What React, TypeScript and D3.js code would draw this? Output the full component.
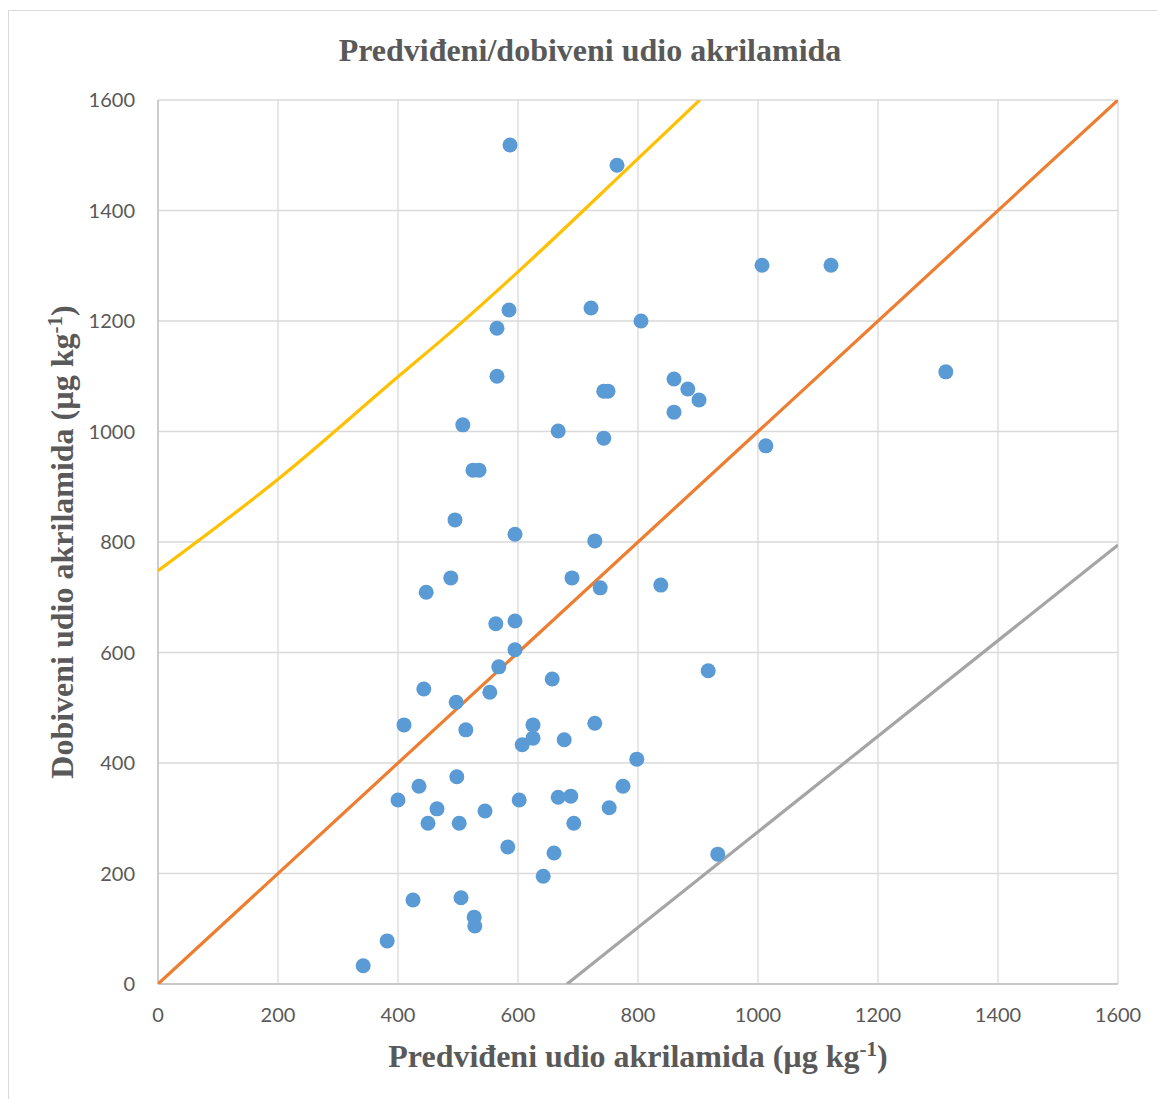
import React from "react";
import * as d3 from "d3";

const predicted = [586.7, 765, 1006.7, 1121.7, 721.7, 585, 805, 565, 565, 1313, 860, 883, 743, 750, 901.7, 860, 508, 667, 743, 1013, 525, 535, 495, 595, 728, 488, 690, 447, 737, 838, 595, 563, 595, 568, 917, 657, 443, 553, 497, 410, 625, 728, 513, 625, 677, 607, 798, 498, 435, 775, 400, 602, 667, 688, 465, 752, 545, 450, 502, 693, 583, 660, 933, 642, 425, 505, 527, 528, 382, 342];
const obtained = [1518.6, 1482, 1301, 1301, 1223.5, 1220, 1200, 1187, 1100, 1108, 1095, 1077, 1073, 1073, 1057, 1035, 1012, 1001, 988, 974, 930, 930, 840, 814, 802, 735, 735, 709, 717, 722, 657, 652, 605, 574, 567, 552, 534, 528, 510, 469, 469, 472, 460, 445, 442, 433, 407, 375, 358, 358, 333, 333, 338, 340, 317, 319, 313, 291, 291, 291, 248, 237, 235, 195, 152, 156, 121, 105, 78, 33];

const identityX = [0, 1600];
const identityY = [0, 1600];
const upperX = [0, 200, 400, 487, 600, 800, 903];
const upperY = [748, 913.5, 1099, 1179, 1289, 1494, 1600];
const lowerX = [681.7, 1600];
const lowerY = [0, 794.6];

const ticks = [0, 200, 400, 600, 800, 1000, 1200, 1400, 1600];

const title = "Predviđeni/dobiveni udio akrilamida";
const xTitle = "Predviđeni udio akrilamida (µg kg";
const yTitle = "Dobiveni udio akrilamida (µg kg";

export default function App() {
  const left = 158, right = 1118, top = 100, bottom = 984;
  const x = d3.scaleLinear().domain([0, 1600]).range([left, right]);
  const y = d3.scaleLinear().domain([0, 1600]).range([bottom, top]);
  const line = d3.line<[number, number]>().x(d => x(d[0])).y(d => y(d[1]));
  const curve = d3.line<[number, number]>().x(d => x(d[0])).y(d => y(d[1])).curve(d3.curveMonotoneX);
  const zip = (a: number[], b: number[]) => a.map((v, i) => [v, b[i]] as [number, number]);
  const tickFont = "Lato, 'Open Sans', sans-serif";
  const serif = "'Liberation Serif', 'DejaVu Serif', serif";
  const textColor = "#595959";

  return (
    <svg width={1157} height={1099} style={{ position: "absolute", left: 0, top: 0 }}>
      <rect x={8.5} y={10.5} width={1160} height={1100} fill="white" stroke="#D9D9D9" strokeWidth={1} />
      <defs>
        <clipPath id="plot">
          <rect x={left} y={top} width={right - left} height={bottom - top} />
        </clipPath>
      </defs>
      {ticks.map(t => (
        <line key={"gx" + t} x1={x(t)} x2={x(t)} y1={top} y2={bottom} stroke="#D9D9D9" strokeWidth={1.3} />
      ))}
      {ticks.map(t => (
        <line key={"gy" + t} x1={left} x2={right} y1={y(t)} y2={y(t)} stroke="#D9D9D9" strokeWidth={1.3} />
      ))}
      <line x1={left} x2={left} y1={top} y2={bottom} stroke="#BFBFBF" strokeWidth={1.3} />
      <line x1={left} x2={right} y1={bottom} y2={bottom} stroke="#BFBFBF" strokeWidth={1.3} />
      <g clipPath="url(#plot)">
        <path d={curve(zip(upperX, upperY)) || ""} fill="none" stroke="#FFC000" strokeWidth={3.2} />
        <path d={line(zip(identityX, identityY)) || ""} fill="none" stroke="#ED7D31" strokeWidth={3.2} />
        <path d={line(zip(lowerX, lowerY)) || ""} fill="none" stroke="#A5A5A5" strokeWidth={3.2} />
      </g>
      {predicted.map((p, i) => (
        <circle key={i} cx={x(p)} cy={y(obtained[i])} r={7.5} fill="#5B9BD5" />
      ))}
      {ticks.map(t => (
        <text key={"ty" + t} x={135} y={y(t)} dy="0.35em" textAnchor="end" fontFamily={tickFont} fontSize={20} fill={textColor}>{t}</text>
      ))}
      {ticks.map(t => (
        <text key={"tx" + t} x={x(t)} y={1022} textAnchor="middle" fontFamily={tickFont} fontSize={20} fill={textColor}>{t}</text>
      ))}
      <text x={590} y={61} textAnchor="middle" fontFamily={serif} fontWeight="bold" fontSize={32} fill={textColor}>{title}</text>
      <text x={638} y={1067} textAnchor="middle" fontFamily={serif} fontWeight="bold" fontSize={32} fill={textColor}>
        {xTitle}<tspan dy={-11} fontSize={21}>-1</tspan><tspan dy={11}>)</tspan>
      </text>
      <text transform={`translate(73, ${(top + bottom) / 2}) rotate(-90)`} textAnchor="middle" fontFamily={serif} fontWeight="bold" fontSize={32} fill={textColor}>
        {yTitle}<tspan dy={-11} fontSize={21}>-1</tspan><tspan dy={11}>)</tspan>
      </text>
    </svg>
  );
}
